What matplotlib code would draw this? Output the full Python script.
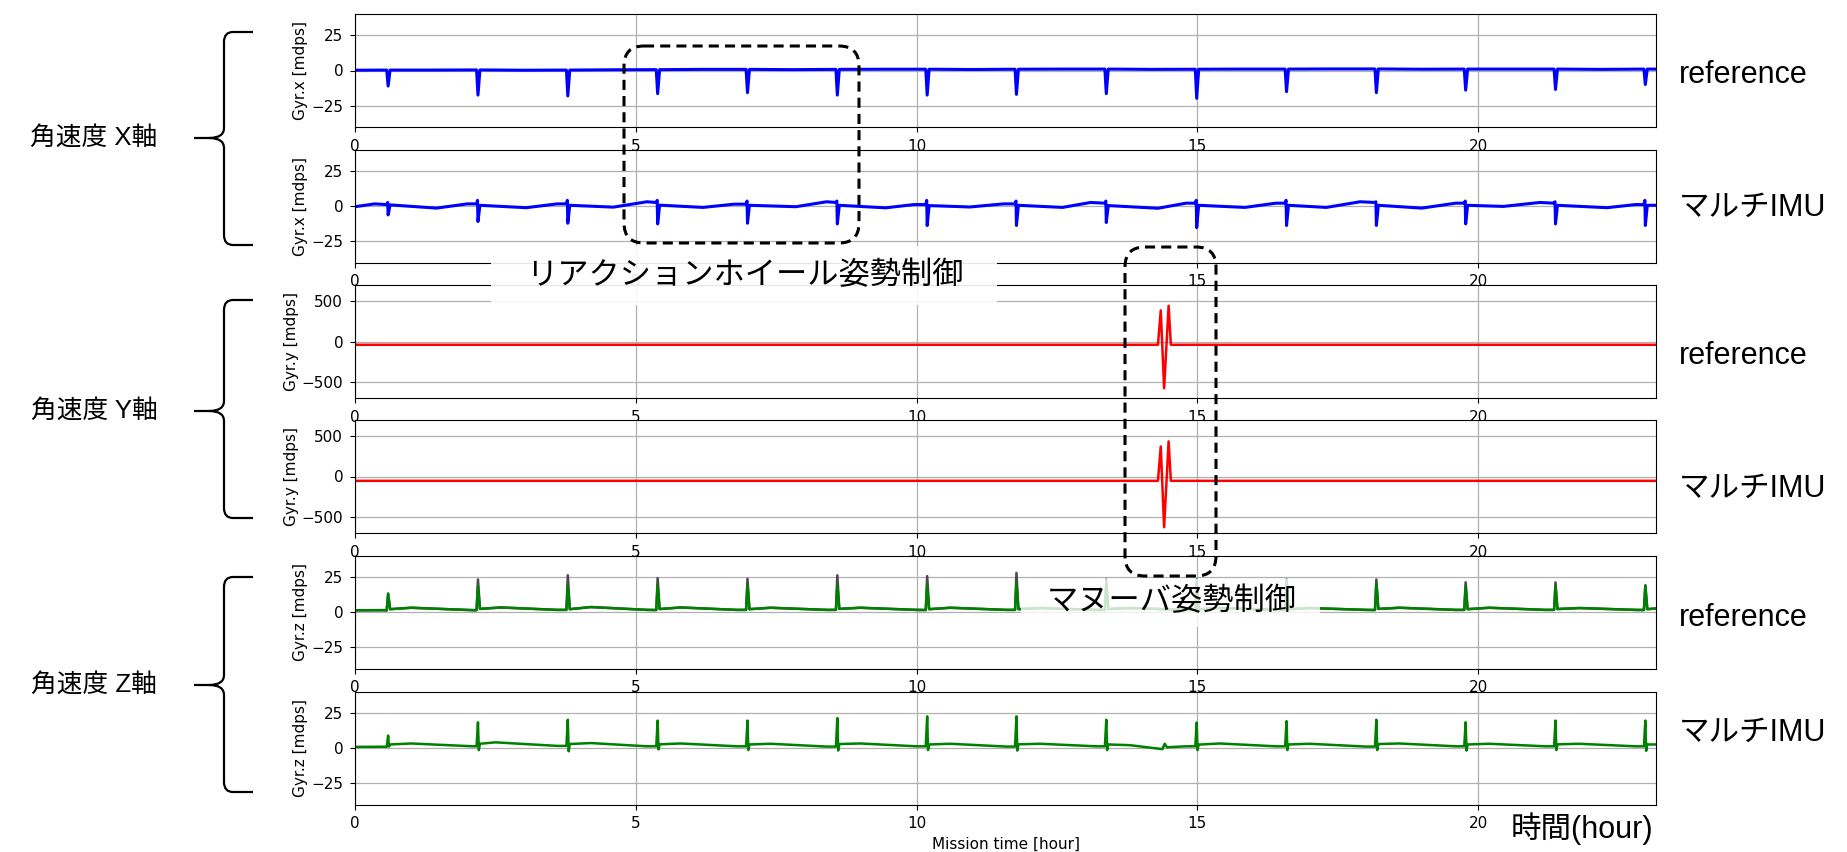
import numpy as np
import matplotlib.pyplot as plt
from matplotlib.patches import FancyBboxPatch, Rectangle, PathPatch
from matplotlib.path import Path

W, H = 1847, 852
JP = ['Liberation Sans', 'Noto Sans CJK JP']

# --- gyro data (mission time in hours, rates in mdps) ---
T_END = 23.17
SPIKE_T = [0.59, 2.19, 3.79, 5.39, 6.99, 8.59, 10.19, 11.78, 13.38, 14.99,
           16.59, 18.19, 19.78, 21.38, 22.98]

# X axis, reference
gx_ref_knot_t = [0.0, 1.4, 3.0, 4.6, 6.2, 7.8, 9.4, 11.0, 12.6, 14.2, 15.8, 17.4, 19.0, 20.6, 22.2, 23.17]
gx_ref_knot_v = [0.2, 0.3, 0.2, 0.5, 0.8, 0.6, 0.9, 0.7, 1.0, 0.8, 1.0, 1.1, 0.9, 1.0, 0.8, 1.0]
gx_ref_level = [0.3, 0.4, 0.3, 0.6, 0.8, 0.8, 0.9, 0.9, 1.0, 0.9, 1.0, 1.1, 1.0, 1.0, 1.0]
gx_ref_peak = [-11.0, -17.4, -18.0, -16.4, -15.7, -17.4, -17.4, -16.9, -16.4, -19.7,
               -15.0, -15.7, -13.9, -13.4, -9.9]

# X axis, multi-IMU
gx_imu_knot_t = [0.0, 0.35, 1.45, 2.0, 3.05, 3.6, 4.6, 5.2, 6.2, 6.75, 7.85, 8.4, 9.45, 9.95,
                 10.95, 11.55, 12.6, 13.1, 14.3, 14.8, 15.85, 16.4, 17.3, 17.9, 19.0, 19.6,
                 20.45, 21.1, 22.3, 22.8, 23.17]
gx_imu_knot_v = [-0.5, 1.5, -1.5, 1.5, -1.2, 1.5, -0.8, 3.0, -1.0, 1.3, -0.5, 3.0, -1.3, 1.0,
                 -0.7, 1.5, -1.0, 2.5, -1.6, 2.0, -1.0, 2.0, -1.0, 3.0, -1.5, 2.0,
                 -0.3, 2.5, -1.2, 1.0, 0.5]
gx_imu_pre = [1.0, 1.5, 1.5, 2.5, 1.3, 2.5, 1.0, 1.5, 2.0, 2.0, 2.0, 2.5, 2.0, 2.0, 1.0]
gx_imu_tip = [2.5, 4.0, 4.0, 4.0, 3.5, 3.5, 4.0, 3.5, 3.5, 4.0, 4.0, 3.0, 3.5, 3.0, 4.0]
gx_imu_peak = [-6.3, -11.0, -12.2, -12.7, -12.2, -12.7, -13.8, -13.8, -11.7, -15.3,
               -13.8, -13.8, -12.7, -12.7, -13.8]
gx_imu_post = [0.8, 0.5, 0.5, 0.6, 0.5, 0.5, 0.3, 0.5, 0.3, 0.5, 0.5, 0.5, 0.5, 0.5, 0.5]

# Y axis (attitude manoeuvre around 14.4 h)
gy_ref_t = [0.0, 14.30, 14.35, 14.41, 14.49, 14.53, 23.17]
gy_ref_v = [-41, -41, 388, -583, 446, -41, -41]
gy_imu_t = [0.0, 14.30, 14.35, 14.41, 14.49, 14.53, 23.17]
gy_imu_v = [-54, -54, 375, -633, 438, -54, -54]

# Z axis, reference
gz_ref_knot_t = [0.0, 0.5, 1.0, 2.1, 2.6, 3.6, 4.2, 5.2, 5.8, 6.8, 7.4, 8.4, 9.0, 10.0, 10.6,
                 11.6, 12.2, 13.2, 13.8, 14.8, 15.4, 16.4, 17.0, 18.0, 18.6, 19.6, 20.2,
                 21.2, 21.8, 22.8, 23.17]
gz_ref_knot_v = [1.2, 1.3, 3.0, 1.3, 3.2, 1.5, 3.5, 1.5, 3.2, 1.5, 3.0, 1.5, 3.0, 1.5, 3.0,
                 1.5, 2.8, 1.5, 2.8, 1.5, 2.8, 1.5, 2.8, 1.5, 3.0, 1.5, 3.0,
                 1.5, 2.8, 1.5, 2.5]
gz_ref_pre = [1.2, 1.3, 1.5, 1.4, 1.5, 1.5, 1.4, 1.5, 1.5, 1.5, 1.5, 1.4, 1.5, 1.5, 1.4]
gz_ref_post = [2.0, 2.2, 2.0, 2.1, 2.0, 2.2, 2.0, 2.0, 2.1, 2.0, 2.0, 2.2, 2.0, 2.1, 2.0]
gz_ref_peak = [13.0, 18.0, 19.0, 19.0, 19.0, 19.0, 19.0, 20.0, 19.0, 19.0,
               19.0, 20.0, 18.0, 18.0, 18.8]
gz_ref_tip = [13.0, 23.0, 26.0, 24.0, 23.5, 26.0, 25.4, 27.7, 23.0, 23.0,
              23.0, 23.0, 21.0, 21.0, 18.8]

# Z axis, multi-IMU
gz_imu_knot_t = [0.0, 0.5, 1.0, 2.1, 2.5, 3.6, 4.2, 5.2, 5.8, 6.8, 7.4, 8.4, 9.0, 10.0, 10.6,
                 11.6, 12.2, 13.2, 13.8, 14.38, 14.42, 14.46, 14.8, 15.4, 16.4, 17.0, 18.0,
                 18.6, 19.6, 20.2, 21.2, 21.8, 22.8, 23.17]
gz_imu_knot_v = [0.8, 0.9, 3.2, 1.2, 4.0, 1.5, 3.5, 1.2, 3.2, 1.2, 3.0, 1.0, 3.2, 1.2, 3.0,
                 1.0, 3.0, 1.2, 2.0, -0.8, 3.0, 0.5, 1.2, 3.2, 1.2, 3.0, 1.0,
                 3.2, 1.2, 3.0, 1.2, 3.0, 1.2, 2.5]
gz_imu_pre = [0.9, 1.2, 1.5, 1.2, 1.2, 1.0, 1.2, 1.0, 1.2, 1.2, 1.2, 1.0, 1.2, 1.2, 1.2]
gz_imu_peak = [8.8, 18.2, 20.0, 19.4, 19.4, 21.2, 22.4, 22.4, 20.0, 18.0,
               19.0, 20.0, 18.2, 19.4, 19.4]
gz_imu_dip = [1.0, -1.5, -2.3, -1.0, -1.5, -1.8, -1.5, -1.8, -1.5, -1.5,
              -1.5, -1.5, -1.8, -1.5, -2.0]
gz_imu_post = [2.5, 3.0, 2.8, 2.6, 2.5, 2.8, 2.5, 2.6, 2.5, 2.4, 2.5, 2.8, 2.5, 2.6, 2.5]


def spiky(knot_t, knot_v, peak, pre, post, tip=None, dip=None):
    """Merge the slow baseline knots with the once-per-orbit spikes."""
    pts = list(zip(knot_t, knot_v))
    for i, t in enumerate(SPIKE_T):
        pts.append((t - 0.025, pre[i]))
        if tip is not None:
            pts.append((t - 0.008, tip[i]))
        pts.append((t, peak[i]))
        if dip is not None:
            pts.append((t + 0.015, dip[i]))
        pts.append((t + 0.035, post[i]))
    pts.sort()
    return np.array(pts).T


fig = plt.figure(figsize=(W / 100, H / 100), dpi=100)

left, right = 355, 1656
tops = [14, 149.5, 285, 420, 555.5, 691.5]
ph = 113
axes = []
for top in tops:
    ax = fig.add_axes([left / W, 1 - (top + ph) / H, (right - left) / W, ph / H])
    ax.set_xlim(0, T_END)
    ax.set_xticks([0, 5, 10, 15, 20])
    ax.grid(True, color='#b0b0b0', linewidth=0.9)
    ax.tick_params(labelsize=11, pad=5)
    axes.append(ax)

t, v = spiky(gx_ref_knot_t, gx_ref_knot_v, gx_ref_peak, gx_ref_level, gx_ref_level)
axes[0].plot(t, v, color='blue', lw=2.2)
t, v = spiky(gx_imu_knot_t, gx_imu_knot_v, gx_imu_peak, gx_imu_pre, gx_imu_post, tip=gx_imu_tip)
axes[1].plot(t, v, color='blue', lw=2.2)
axes[2].plot(gy_ref_t, gy_ref_v, color='red', lw=1.8)
axes[3].plot(gy_imu_t, gy_imu_v, color='red', lw=1.8)
t, v = spiky(gz_ref_knot_t, gz_ref_knot_v, gz_ref_tip, gz_ref_pre, gz_ref_post)
axes[4].plot(t, v, color='#4a4a4a', lw=1.8)
t, v = spiky(gz_ref_knot_t, gz_ref_knot_v, gz_ref_peak, gz_ref_pre, gz_ref_post)
axes[4].plot(t, v, color='green', lw=1.8)
t, v = spiky(gz_imu_knot_t, gz_imu_knot_v, gz_imu_peak, gz_imu_pre, gz_imu_post, dip=gz_imu_dip)
axes[5].plot(t, v, color='green', lw=1.8)

for ax, name in zip(axes, ['x', 'x', 'y', 'y', 'z', 'z']):
    if name == 'y':
        ax.set_ylim(-705, 705)
        ax.set_yticks([-500, 0, 500])
    else:
        ax.set_ylim(-40, 40)
        ax.set_yticks([-25, 0, 25])
    ax.set_ylabel(f'Gyr.{name} [mdps]', fontsize=11, labelpad=2)
axes[5].set_xlabel('Mission time [hour]', fontsize=11)
fig.align_ylabels(axes)

# --- annotation layer in pixel coordinates ---
ov = fig.add_axes([0, 0, 1, 1], facecolor='none')
ov.set_xlim(0, W)
ov.set_ylim(H, 0)
ov.axis('off')

# translucent label backgrounds
ov.add_patch(Rectangle((491, 246), 506, 59, fc='white', ec='none', alpha=0.9))
ov.add_patch(Rectangle((1021, 579), 299, 48, fc='white', ec='none', alpha=0.8))

# dashed highlight frames
for x0, y0, x1, y1 in [(624, 46, 859, 243), (1125, 247, 1216, 576)]:
    ov.add_patch(FancyBboxPatch((x0, y0), x1 - x0, y1 - y0,
                                boxstyle='round,pad=0,rounding_size=20',
                                fill=False, ec='black', lw=2.2, ls=(0, (3.3, 2))))

ov.text(745, 276, 'リアクションホイール姿勢制御', family=JP, fontsize=22.5,
        ha='center', va='center')
ov.text(1172, 602, 'マヌーバ姿勢制御', family=JP, fontsize=22.5,
        ha='center', va='center')

# curly braces grouping each axis pair
for top, mid, bot in [(32, 138, 245), (300, 411, 518), (577, 685, 792)]:
    xv, xr, xt = 224, 253, 194
    verts = [(xr, top), (233, top), (xv, top), (xv, top + 10),
             (xv, mid - 10), (xv, mid), (209, mid), (xt, mid),
             (209, mid), (xv, mid), (xv, mid + 10),
             (xv, bot - 10), (xv, bot), (233, bot), (xr, bot)]
    codes = [Path.MOVETO, Path.LINETO, Path.CURVE3, Path.CURVE3,
             Path.LINETO, Path.CURVE3, Path.CURVE3, Path.LINETO,
             Path.MOVETO, Path.CURVE3, Path.CURVE3,
             Path.LINETO, Path.CURVE3, Path.CURVE3, Path.LINETO]
    ov.add_patch(PathPatch(Path(verts, codes), fill=False, ec='black', lw=1.6))

for y, s in [(138, '角速度 X軸'), (411, '角速度 Y軸'), (685, '角速度 Z軸')]:
    ov.text(94, y, s, family=JP, fontsize=18.5, ha='center', va='center')

for y, s in [(75, 'reference'), (208, 'マルチIMU'), (356, 'reference'),
             (489, 'マルチIMU'), (618, 'reference'), (733, 'マルチIMU')]:
    ov.text(1679, y, s, family=JP, fontsize=22, ha='left', va='center')

ov.text(1511, 829, '時間(hour)', family=JP, fontsize=22, ha='left', va='center')

fig.savefig('out.png', dpi=100)
